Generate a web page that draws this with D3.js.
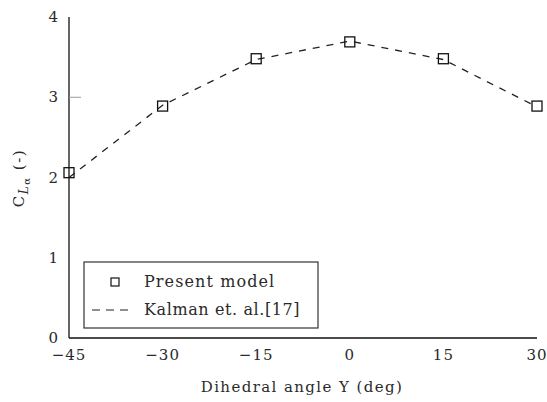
<!DOCTYPE html>
<html><head><meta charset="utf-8">
<script src="https://cdn.jsdelivr.net/npm/d3@7"></script>
<style>body{margin:0;background:#fff}svg text{font-family:"DejaVu Serif","Liberation Serif",serif;fill:#2a2a2a}</style>
</head><body><svg id="c" width="547" height="402"></svg>
<script>
const xTicks = [-45, -30, -15, 0, 15, 30];
const yTicks = [0, 1, 2, 3, 4];
const presentX = [-45, -30, -15, 0, 15, 30];
const presentY = [2.06, 2.89, 3.48, 3.69, 3.48, 2.89];
const kalmanX = [-45, -30, -15, 0, 15, 30];
const kalmanY = [2.0, 2.90, 3.47, 3.70, 3.47, 2.88];

const svg = d3.select('#c');
const x = d3.scaleLinear().domain([-45, 30]).range([69, 537]);
const y = d3.scaleLinear().domain([0, 4]).range([338, 17]);

svg.append('line').attr('x1', 69).attr('x2', 69).attr('y1', y(4)).attr('y2', y(0)).attr('stroke', '#111').attr('stroke-width', 1.3);
svg.append('line').attr('x1', 69).attr('x2', x(30)).attr('y1', y(0)).attr('y2', y(0)).attr('stroke', '#111').attr('stroke-width', 1.3);
svg.append('line').attr('x1', 69).attr('x2', 81).attr('y1', y(3)).attr('y2', y(3)).attr('stroke', '#999').attr('stroke-width', 1);

svg.selectAll('.yt').data(yTicks).enter().append('text')
  .attr('x', 58).attr('y', d => y(d) + 5).attr('text-anchor', 'end')
  .style('font-size', '15px').text(d => d);
svg.selectAll('.xt').data(xTicks).enter().append('text')
  .attr('x', d => x(d)).attr('y', 360).attr('text-anchor', 'middle')
  .style('font-size', '15px').style('letter-spacing', '1px').text(d => d < 0 ? '\u2212' + Math.abs(d) : d);

svg.append('text').attr('x', 302).attr('y', 392).attr('text-anchor', 'middle')
  .style('font-size', '15px').style('letter-spacing', '1.4px').text('Dihedral angle \u03A5 (deg)');

const yl = svg.append('text').attr('transform', 'translate(24,178) rotate(-90)').attr('text-anchor', 'middle').style('font-size', '15px').style('letter-spacing', '1.5px');
yl.append('tspan').text('C');
yl.append('tspan').attr('dy', 4).style('font-size', '12px').style('font-style', 'italic').text('L');
yl.append('tspan').attr('dy', 2).style('font-size', '10px').text('\u03B1');
yl.append('tspan').attr('dy', -6).text('  (-)');

const kd = kalmanX.map((v, i) => [v, kalmanY[i]]);
svg.append('path').datum(kd)
  .attr('d', d3.line().x(d => x(d[0])).y(d => y(d[1])))
  .attr('fill', 'none').attr('stroke', '#222').attr('stroke-width', 1.3).attr('stroke-dasharray', '7,7');

const pd = presentX.map((v, i) => [v, presentY[i]]);
svg.selectAll('.m').data(pd).enter().append('rect')
  .attr('x', d => x(d[0]) - 5).attr('y', d => y(d[1]) - 5).attr('width', 10).attr('height', 10)
  .attr('fill', 'none').attr('stroke', '#111').attr('stroke-width', 1.3);

const lg = svg.append('g');
lg.append('rect').attr('x', 84).attr('y', 262).attr('width', 234).attr('height', 66).attr('fill', '#fff').attr('stroke', '#333').attr('stroke-width', 1.2);
lg.append('rect').attr('x', 111).attr('y', 278).attr('width', 8).attr('height', 8).attr('fill', 'none').attr('stroke', '#111').attr('stroke-width', 1.2);
lg.append('text').attr('x', 144).attr('y', 287).style('font-size', '16px').style('letter-spacing', '1.1px').text('Present model');
lg.append('line').attr('x1', 92).attr('x2', 134).attr('y1', 310).attr('y2', 310).attr('stroke', '#222').attr('stroke-width', 1.2).attr('stroke-dasharray', '8,6');
lg.append('text').attr('x', 144).attr('y', 315).style('font-size', '16px').style('letter-spacing', '0.6px').text('Kalman et. al.[17]');
</script></body></html>
